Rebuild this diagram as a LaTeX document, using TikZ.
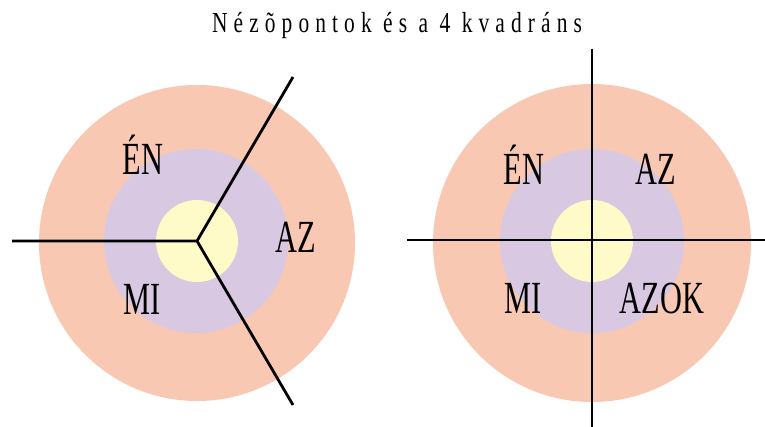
\documentclass[tikz,border=0pt]{standalone}
\usepackage{fontspec}
\setmainfont{Liberation Serif}
\newfontfamily\labfont[FakeStretch=0.66]{Liberation Serif}
\newfontfamily\titlefont[LetterSpace=21,FakeStretch=0.74]{Liberation Serif}
\definecolor{outerc}{RGB}{249,200,178}
\definecolor{midc}{RGB}{216,200,226}
\definecolor{innerc}{RGB}{255,251,200}
\tikzset{
  axis/.style={line width=2.8pt, black},
  lab/.style={font=\labfont\fontsize{46}{46}\selectfont, inner sep=0pt, anchor=base},
  ttl/.style={font=\titlefont\fontsize{29}{29}\selectfont, inner sep=0pt, anchor=base}
}
\begin{document}
\begin{tikzpicture}[x=1pt,y=-1pt]
\useasboundingbox[fill=white] (0,0) rectangle (765,427);
\node[ttl] (title) at (397,33) {Nézõpontok és a 4 kvadráns};
% left
\fill[outerc] (197,243) circle (158);
\fill[midc] (196,241) circle (92);
\fill[innerc] (197,241) circle (41);
\coordinate (lc) at (197,241);
\coordinate (lw) at (12,241);
\coordinate (lne) at (293,77);
\coordinate (lse) at (293,405);
\draw[axis] (lw) -- (lc) -- (lne);
\draw[axis] (lc) -- (lse);
\node[lab] (len) at (143,175) {ÉN};
\node[lab] (laz) at (296,253) {AZ};
\node[lab] (lmi) at (142,315) {MI};
% right
\fill[outerc] (592,243) circle (159);
\fill[midc] (592,241) circle (92);
\fill[innerc] (592,241) circle (41);
\coordinate (rn) at (592,49);
\coordinate (rs) at (592,427);
\coordinate (rw) at (407,240);
\coordinate (re) at (765,240);
\draw[axis] (rn) -- (rs);
\draw[axis] (rw) -- (re);
\node[lab] (ren) at (524,185) {ÉN};
\node[lab] (raz) at (656,185) {AZ};
\node[lab] (rmi) at (523,313) {MI};
\node[lab] (razok) at (662,313) {AZOK};
\end{tikzpicture}
\end{document}
